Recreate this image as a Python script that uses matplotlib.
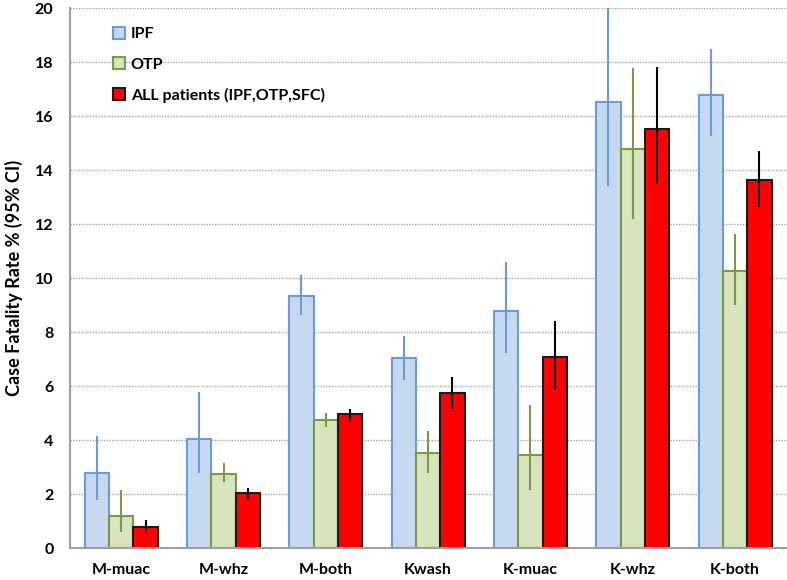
import numpy as np
import matplotlib.pyplot as plt

plt.rcParams['font.family'] = ['Lato', 'DejaVu Sans']

cats = ["M-muac", "M-whz", "M-both", "Kwash", "K-muac", "K-whz", "K-both"]

ipf = [2.8, 4.03, 9.35, 7.03, 8.8, 16.53, 16.8]
ipf_lo = [1.8, 2.8, 8.62, 6.23, 7.23, 13.43, 15.25]
ipf_hi = [4.17, 5.77, 10.1, 7.87, 10.6, 20.0, 18.47]

otp = [1.19, 2.75, 4.75, 3.52, 3.43, 14.77, 10.27]
otp_lo = [0.6, 2.46, 4.49, 2.8, 2.17, 12.18, 9.0]
otp_hi = [2.17, 3.14, 4.99, 4.35, 5.3, 17.77, 11.63]

allp = [0.79, 2.03, 4.97, 5.74, 7.07, 15.54, 13.63]
allp_lo = [0.58, 1.78, 4.68, 5.16, 5.9, 13.48, 12.62]
allp_hi = [1.04, 2.23, 5.17, 6.35, 8.42, 17.83, 14.71]

series = [
    ("IPF", ipf, ipf_lo, ipf_hi, "#C6D9F1", "#6B9BD8", "#6B9BD8"),
    ("OTP", otp, otp_lo, otp_hi, "#D7E4BD", "#7A9A44", "#7A9A44"),
    ("ALL patients (IPF,OTP,SFC)", allp, allp_lo, allp_hi, "#FF0000", "#1A1A1A", "#000000"),
]

fig = plt.figure(figsize=(7.87, 5.80), dpi=100)
ax = fig.add_axes([0.089, 0.055, 0.91, 0.931])

x = np.arange(len(cats))
w = 0.238
for i, (name, v, lo, hi, fc, ec, errc) in enumerate(series):
    v = np.array(v)
    err = [v - np.array(lo), np.array(hi) - v]
    pos = x + (i - 1) * w
    ax.bar(pos, v, width=w, color=fc, edgecolor=ec, linewidth=1.5, label=name, zorder=2)
    ax.errorbar(pos, v, yerr=err, fmt='none', ecolor=errc, elinewidth=1.5, capsize=0, zorder=3)

ax.set_xlim(-0.5, len(cats) - 0.5)
ax.set_ylim(0, 20)
ax.set_yticks(np.arange(0, 21, 2))
ax.set_xticks(x)
ax.set_xticklabels(cats, fontsize=11.5, fontweight='bold')
for t in ax.get_yticklabels():
    t.set_fontsize(11.5)
    t.set_fontweight('bold')
ax.tick_params(axis='y', length=0, pad=12)
ax.tick_params(axis='x', length=0, pad=11)

ax.grid(axis='y', linestyle=(0, (1, 1)), color='#A6A6A6', linewidth=1, zorder=0)
ax.set_axisbelow(True)
for s in ['top', 'right']:
    ax.spines[s].set_visible(False)
for s in ['left', 'bottom']:
    ax.spines[s].set_color('#A0A0A0')
    ax.spines[s].set_linewidth(1.5)

ax.set_ylabel("Case Fatality Rate % (95% CI)", fontsize=13, fontweight='bold')
ax.yaxis.set_label_coords(-0.066, 0.5)

leg = ax.legend(loc='upper left', bbox_to_anchor=(0.04, 0.992), frameon=False,
                handlelength=0.75, handleheight=0.75, handletextpad=0.35,
                labelspacing=1.0, prop={'weight': 'bold', 'size': 11.5})

fig.savefig("out.png", dpi=100)
